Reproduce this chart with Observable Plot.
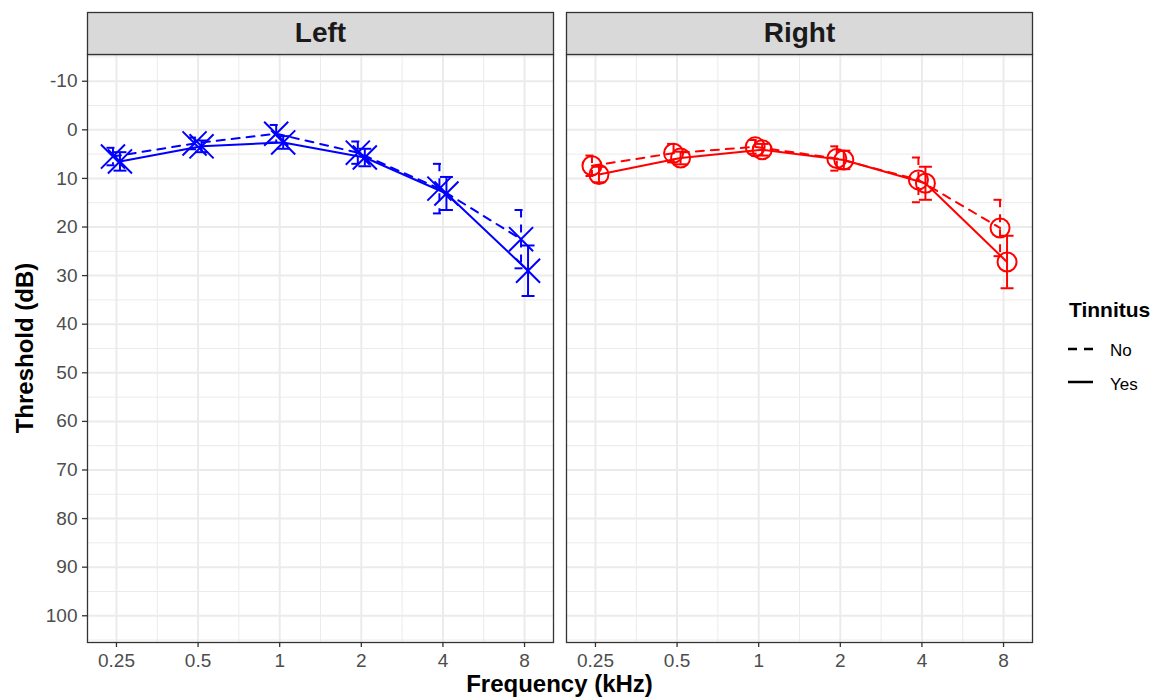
<!DOCTYPE html>
<html><head><meta charset="utf-8">
<script src="https://cdn.jsdelivr.net/npm/d3@7"></script>
<script src="https://cdn.jsdelivr.net/npm/@observablehq/plot@0.6"></script>
<style>
body{margin:0;background:#fff;font-family:"Liberation Sans",Arial,sans-serif;}
#wrap{position:relative;width:1157px;height:699px;overflow:hidden;background:#fff;}
.lab{position:absolute;line-height:1;white-space:nowrap;color:#000;}
#wrap svg.key{position:absolute;overflow:visible;}
</style></head><body><div id="wrap"></div>
<script>
// ---- data ----
const freqs = [0.25, 0.5, 1, 2, 4, 8];
const freqLabels = ["0.25", "0.5", "1", "2", "4", "8"];
const sides = ["Left", "Right"];
const groups = ["No", "Yes"];
const leftNo = [5.5, 2.8, 0.8, 4.7, 12.1, 22.5];
const leftNoSE = [1.8, 1.2, 1.8, 2.3, 5.1, 6.0];
const leftYes = [6.5, 3.4, 2.6, 5.7, 13.1, 29.0];
const leftYesSE = [1.9, 1.2, 1.3, 1.8, 3.4, 5.2];
const rightNo = [7.4, 4.8, 3.5, 5.9, 10.3, 20.2];
const rightNoSE = [2.1, 1.9, 1.4, 2.5, 4.6, 5.8];
const rightYes = [9.2, 5.8, 4.1, 6.2, 11.0, 27.2];
const rightYesSE = [1.6, 1.3, 1.2, 1.9, 3.4, 5.4];
const yTicks = [-10, 0, 10, 20, 30, 40, 50, 60, 70, 80, 90, 100];
const yMinor = [-15, -5, 5, 15, 25, 35, 45, 55, 65, 75, 85, 95, 105];
const xMinor = [0.3536, 0.7071, 1.414, 2.828, 5.657];
const legendTitle = "Tinnitus";
const xTitle = "Frequency (kHz)";
const yTitle = "Threshold (dB)";

const source = {
  Left: {No: [leftNo, leftNoSE], Yes: [leftYes, leftYesSE]},
  Right: {No: [rightNo, rightNoSE], Yes: [rightYes, rightYesSE]}
};
const rows = [];
for (const side of sides) for (const g of groups) {
  const [m, s] = source[side][g];
  freqs.forEach((f, i) => rows.push({side, group: g, freq: f, mean: m[i], se: s[i]}));
}
const tickRows = freqs.map((f, i) => ({freq: f, label: freqLabels[i]}));

// ---- styles ----
const colors = {Left: "#0000ff", Right: "#ff0000"};
const shapes = {Left: "times", Right: "circle"};
const radii = {Left: 11, Right: 9.5};
const dashes = {No: "8,7", Yes: "none"};
const offsets = {No: -3.5, Yes: 3.5};
const capSymbol = {draw(ctx) { ctx.moveTo(-6.5, 0); ctx.lineTo(6.5, 0); }};
const gridCol = "#ebebeb";

const W = 1157, H = 699, mT = 54, mB = 57, mL = 87, mR = 125;

const dataMarks = [];
for (const side of sides) for (const g of groups) {
  const data = rows.filter(r => r.side === side && r.group === g);
  const common = {fx: "side", x: "freq", stroke: colors[side], strokeWidth: 2, dx: offsets[g]};
  dataMarks.push(
    Plot.ruleX(data, {...common, y1: d => d.mean - d.se, y2: d => d.mean + d.se, strokeDasharray: dashes[g]}),
    Plot.dot(data, {...common, y: d => d.mean - d.se, symbol: capSymbol, r: 5, fill: "none", strokeDasharray: dashes[g]}),
    Plot.dot(data, {...common, y: d => d.mean + d.se, symbol: capSymbol, r: 5, fill: "none", strokeDasharray: dashes[g]}),
    Plot.line(data, {...common, y: "mean", strokeDasharray: dashes[g]}),
    Plot.dot(data, {...common, y: "mean", symbol: shapes[side], r: radii[side], fill: "none"})
  );
}

const chart = Plot.plot({
  width: W, height: H,
  marginLeft: mL, marginRight: mR, marginTop: mT, marginBottom: mB,
  style: {fontFamily: "'Liberation Sans', Arial, sans-serif", background: "transparent", overflow: "visible"},
  fx: {domain: sides, paddingInner: 0.02714, paddingOuter: 0, axis: null, round: false},
  x: {type: "log", domain: [0.1955, 10.23], axis: null},
  y: {domain: [-15.5, 105.5], reverse: true, axis: null},
  marks: [
    Plot.gridX({ticks: xMinor, stroke: gridCol, strokeOpacity: 1, strokeWidth: 1}),
    Plot.gridY({ticks: yMinor, stroke: gridCol, strokeOpacity: 1, strokeWidth: 1}),
    Plot.gridX({ticks: freqs, stroke: gridCol, strokeOpacity: 1, strokeWidth: 2}),
    Plot.gridY({ticks: yTicks, stroke: gridCol, strokeOpacity: 1, strokeWidth: 2}),
    ...dataMarks,
    Plot.frame({stroke: "#333333", strokeWidth: 1.3}),
    Plot.frame({fill: "#d9d9d9", stroke: "#333333", strokeWidth: 1.3, insetTop: -42, insetBottom: H - mT - mB}),
    Plot.text(sides, {fx: d => d, text: d => d, frameAnchor: "top", lineAnchor: "middle", dy: -21, fontSize: 28, fontWeight: "bold", fill: "#1a1a1a"}),
    Plot.axisY({ticks: yTicks, tickFormat: d => String(d), tickSize: 5, tickPadding: 5, fontSize: 19, fill: "#4d4d4d", stroke: "#333333", strokeWidth: 1.3, label: null}),
    Plot.axisX({ticks: freqs, tickSize: 5, fill: "none", stroke: "#333333", strokeWidth: 1.3, label: null}),
    Plot.text(tickRows, {x: "freq", text: "label", frameAnchor: "bottom", lineAnchor: "top", dy: 11, fontSize: 19, fill: "#4d4d4d"})
  ]
});

const wrap = document.getElementById("wrap");
chart.style.position = "absolute";
chart.style.left = "0px";
chart.style.top = "0px";
wrap.appendChild(chart);

function label(text, css) {
  const d = document.createElement("div");
  d.className = "lab";
  d.textContent = text;
  Object.assign(d.style, css);
  wrap.appendChild(d);
  return d;
}
label(xTitle, {left: "559.5px", top: "672px", fontSize: "24px", fontWeight: "bold", transform: "translateX(-50%)"});
label(yTitle, {left: "25px", top: "348px", fontSize: "24px", fontWeight: "bold", transform: "translate(-50%,-50%) rotate(-90deg)"});
label(legendTitle, {left: "1069px", top: "299px", fontSize: "21px", fontWeight: "bold"});

const keyY = {No: 348.5, Yes: 382};
const keyText = {No: 341.5, Yes: 375.5};
for (const g of groups) {
  const ns = "http://www.w3.org/2000/svg";
  const s = document.createElementNS(ns, "svg");
  s.setAttribute("class", "key");
  s.setAttribute("width", "26");
  s.setAttribute("height", "6");
  s.style.left = "1068px";
  s.style.top = (keyY[g] - 3) + "px";
  const l = document.createElementNS(ns, "line");
  l.setAttribute("x1", "0"); l.setAttribute("x2", "25");
  l.setAttribute("y1", "3"); l.setAttribute("y2", "3");
  l.setAttribute("stroke", "#000");
  l.setAttribute("stroke-width", "2.5");
  if (g === "No") l.setAttribute("stroke-dasharray", "9,7");
  s.appendChild(l);
  wrap.appendChild(s);
  label(g, {left: "1110px", top: keyText[g] + "px", fontSize: "17px"});
}
</script></body></html>
